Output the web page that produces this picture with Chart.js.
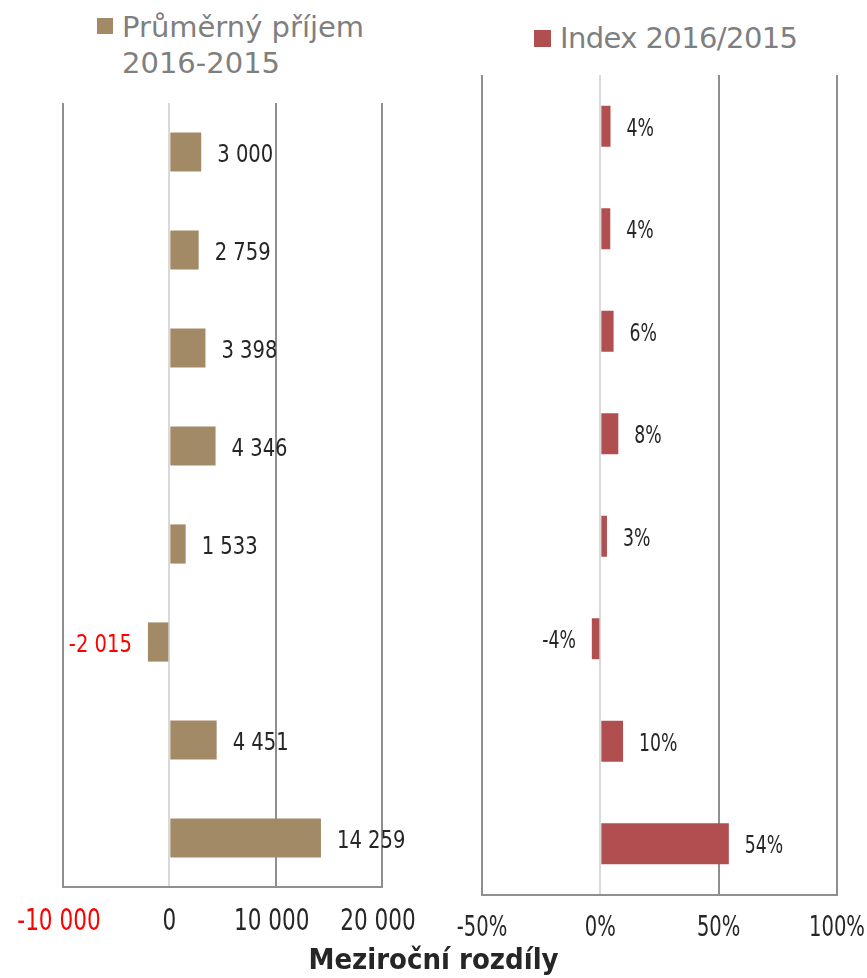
<!DOCTYPE html>
<html><head><meta charset="utf-8">
<script src="https://cdn.jsdelivr.net/npm/chart.js@4/dist/chart.umd.min.js"></script>
<style>
html,body{margin:0;padding:0;background:#fff;}
body{width:867px;height:978px;position:relative;overflow:hidden;}
#c1{position:absolute;left:0;top:0;}
#c2{position:absolute;left:434px;top:0;}
.leg{position:absolute;font-family:'DejaVu Sans',sans-serif;font-size:29px;color:#7f7f7f;line-height:36px;white-space:nowrap;}
.sw{position:absolute;}
#title{position:absolute;left:0;width:867px;text-align:center;top:942px;font-family:'DejaVu Sans Condensed','DejaVu Sans',sans-serif;font-weight:bold;font-size:29px;line-height:34px;color:#262626;}
</style></head><body>
<div class="sw" style="left:97px;top:18px;width:16px;height:16px;background:#a38a67"></div>
<div class="leg" style="left:122px;top:9px;">Průměrný příjem<br>2016-2015</div>
<div class="sw" style="left:534px;top:30px;width:17px;height:17px;background:#b14f50"></div>
<div class="leg" style="left:560px;top:20px;letter-spacing:-0.6px;">Index 2016/2015</div>
<canvas id="c1" width="434" height="978"></canvas>
<canvas id="c2" width="433" height="978"></canvas>
<div id="title">Meziroční rozdíly</div>
<script>
// ---- data ----
const categories = ['Kategorie 1','Kategorie 2','Kategorie 3','Kategorie 4','Kategorie 5','Kategorie 6','Kategorie 7','Kategorie 8'];
const incomeDiff = [3000, 2759, 3398, 4346, 1533, -2015, 4451, 14259];
const indexPct = [4.3, 4.2, 5.6, 7.6, 2.8, -3.6, 9.6, 54.3];
const incomeTicks = [-10000, 0, 10000, 20000];
const indexTicks = [-50, 0, 50, 100];
const incomeLabel = 'Průměrný příjem 2016-2015';
const indexLabel = 'Index 2016/2015';

const NARROW = "'Liberation Sans Narrow','DejaVu Sans Condensed',sans-serif";
const fmtNum = v => (v < 0 ? '-' : '') + String(Math.round(Math.abs(v))).replace(/\B(?=(\d{3})+(?!\d))/g, ' ');
const fmtPct = v => Math.round(v) + '%';

// draws value labels next to bars and the x tick labels (narrow, tall text)
const narrowText = {
  id: 'narrowText',
  afterDraw(chart, args, o) {
    const ctx = chart.ctx;
    const meta = chart.getDatasetMeta(0);
    const data = chart.data.datasets[0].data;
    ctx.save();
    ctx.textBaseline = 'alphabetic';
    // value labels
    ctx.font = o.labelSize + 'px ' + NARROW;
    meta.data.forEach((bar, i) => {
      const v = data[i];
      const neg = v < 0;
      ctx.save();
      ctx.fillStyle = o.labelColor(v);
      ctx.translate(neg ? bar.x - o.gap : bar.x + o.gap, bar.y + o.labelSize * 0.729 / 2 + 1);
      ctx.scale(o.labelScale, 1);
      ctx.textAlign = neg ? 'right' : 'left';
      ctx.fillText(o.format(v), 0, 0);
      ctx.restore();
    });
    // tick labels
    const xs = chart.scales.x;
    ctx.font = o.tickSize + 'px ' + NARROW;
    xs.ticks.forEach(t => {
      ctx.save();
      ctx.fillStyle = o.tickColor(t.value);
      ctx.translate(xs.getPixelForValue(t.value) + (t.value === 0 ? 0 : o.tickShift), xs.top + o.tickBase);
      ctx.scale(o.tickScale, 1);
      ctx.textAlign = 'center';
      ctx.fillText(o.format(t.value), 0, 0);
      ctx.restore();
    });
    ctx.restore();
  }
};

function makeChart(id, cfg) {
  return new Chart(document.getElementById(id), {
    type: 'bar',
    data: {
      labels: categories,
      datasets: [{
        label: cfg.label,
        data: cfg.data,
        backgroundColor: cfg.color,
        barPercentage: 0.4,
        categoryPercentage: 1.0
      }]
    },
    options: {
      indexAxis: 'y',
      responsive: false,
      animation: false,
      devicePixelRatio: 1,
      layout: { padding: cfg.padding },
      plugins: {
        legend: { display: false },
        tooltip: { enabled: false },
        narrowText: cfg.text
      },
      scales: {
        y: { display: false },
        x: {
          min: cfg.ticks[0],
          max: cfg.ticks[cfg.ticks.length - 1],
          afterBuildTicks: s => { s.ticks = cfg.ticks.map(v => ({ value: v })); },
          afterFit: s => {
            s.height = cfg.axisHeight;
            s.paddingLeft = 0; s.paddingRight = 0; s.paddingTop = 0; s.paddingBottom = 0;
          },
          grid: {
            drawTicks: false,
            lineWidth: 2,
            color: c => (c.tick && c.tick.value === 0) ? '#d9d9d9' : '#8f8f8f'
          },
          border: { display: true, color: '#8f8f8f', width: 2 },
          ticks: { display: false }
        }
      }
    },
    plugins: [narrowText]
  });
}

makeChart('c1', {
  label: incomeLabel,
  data: incomeDiff,
  color: '#a38a67',
  ticks: incomeTicks,
  padding: { left: 63, right: 52, top: 103, bottom: 0 },
  axisHeight: 91,
  text: {
    format: fmtNum,
    gap: 16,
    labelSize: 25, labelScale: 0.87,
    labelColor: v => v < 0 ? '#ff0000' : '#262626',
    tickSize: 30, tickScale: 0.8, tickBase: 43, tickShift: -4,
    tickColor: v => v < 0 ? '#ff0000' : '#262626'
  }
});

makeChart('c2', {
  label: indexLabel,
  data: indexPct,
  color: '#b14f50',
  ticks: indexTicks,
  padding: { left: 48, right: 30, top: 75, bottom: 0 },
  axisHeight: 83,
  text: {
    format: fmtPct,
    gap: 16,
    labelSize: 24, labelScale: 0.8,
    labelColor: v => '#262626',
    tickSize: 29, tickScale: 0.75, tickBase: 41, tickShift: 0,
    tickColor: v => '#262626'
  }
});
</script>
</body></html>
